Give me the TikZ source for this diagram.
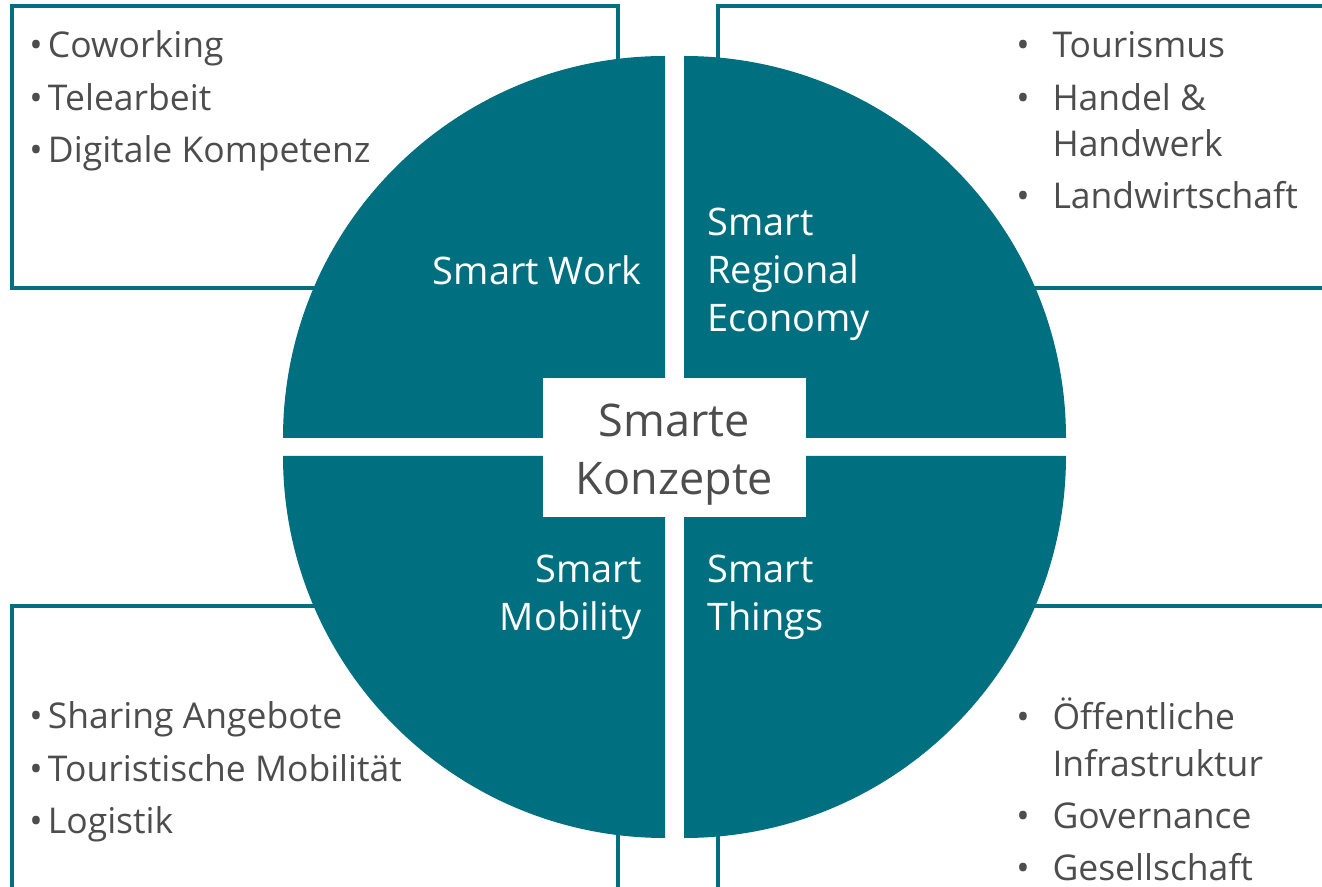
\documentclass[tikz,border=0pt]{standalone}
\usepackage{fontspec}
\setmainfont{Open Sans}
\usepackage{xcolor}
\definecolor{petrol}{HTML}{007080}
\definecolor{txtgray}{HTML}{4D4D4D}

\tikzset{
  rahmen/.style={draw=petrol, line width=2.3pt},
  viertel/.style={fill=petrol},
  liste/.style={text=txtgray, inner sep=0pt, font=\fontsize{20.2}{29.6}\selectfont},
  titel/.style={text=white, inner sep=0pt, font=\fontsize{21.6}{27.3}\selectfont}
}

\begin{document}
\begin{tikzpicture}
  \useasboundingbox (0,0) rectangle (26.44,17.72);
  \begin{scope}
    \clip (0,0) rectangle (26.44,17.72);

    % Rahmen der vier Themenfelder
    \draw[rahmen] (0.24,11.96) rectangle (12.36,17.60);
    \draw[rahmen] (14.36,11.96) rectangle (27.00,17.60);
    \draw[rahmen] (0.24,-1.00) rectangle (12.36,5.60);
    \draw[rahmen] (14.36,-1.00) rectangle (27.00,5.60);

    % Kreis aus vier Vierteln
    \fill[viertel] (13.30,8.96) -- ++(-7.64,0) arc (180:90:7.64) -- cycle;
    \fill[viertel] (13.68,8.96) -- ++(0,7.64) arc (90:0:7.64) -- cycle;
    \fill[viertel] (13.30,8.60) -- ++(-7.64,0) arc (180:270:7.64) -- cycle;
    \fill[viertel] (13.68,8.60) -- ++(7.64,0) arc (0:-90:7.64) -- cycle;
  \end{scope}

  % Mitte
  \node[fill=white, minimum width=5.26cm, minimum height=2.78cm, inner sep=0pt] (mitte) at (13.49,8.77) {};
  \node[text=txtgray, inner sep=0pt, font=\fontsize{25.6}{33}\selectfont] (mittetext) at ([yshift=-0.12cm]mitte.center)
        {\begin{tabular}{@{}c@{}}Smarte\\ Konzepte\end{tabular}};

  % Titel der Viertel
  \node[titel, anchor=base east] (work) at (12.84,12.02)
        {\begin{tabular}[t]{@{}r@{}}Smart Work\end{tabular}};
  \node[titel, anchor=base west] (regio) at (14.14,13.00)
        {\begin{tabular}[t]{@{}l@{}}Smart\\ Regional\\ Economy\end{tabular}};
  \node[titel, anchor=base east] (mobil) at (12.84,6.06)
        {\begin{tabular}[t]{@{}r@{}}Smart\\ Mobility\end{tabular}};
  \node[titel, anchor=base west] (things) at (14.14,6.06)
        {\begin{tabular}[t]{@{}l@{}}Smart\\ Things\end{tabular}};

  % Stichpunkte
  \node[liste, anchor=base west] (worklist) at (0.58,16.56)
        {\begin{tabular}[t]{@{}l@{\hspace{3pt}}l@{}}
          \textbullet & Coworking\\
          \textbullet & Telearbeit\\
          \textbullet & Digitale Kompetenz
        \end{tabular}};
  \node[liste, anchor=base west, font=\fontsize{20.2}{26.2}\selectfont] (regiolist) at (20.32,16.56)
        {\begin{tabular}[t]{@{}l@{\hspace{13pt}}l@{}}
          \textbullet & Tourismus\\[3.4pt]
          \textbullet & Handel \&\\
                      & Handwerk\\[3.4pt]
          \textbullet & Landwirtschaft
        \end{tabular}};
  \node[liste, anchor=base west] (mobillist) at (0.58,3.14)
        {\begin{tabular}[t]{@{}l@{\hspace{3pt}}l@{}}
          \textbullet & Sharing Angebote\\
          \textbullet & Touristische Mobilität\\
          \textbullet & Logistik
        \end{tabular}};
  \node[liste, anchor=base west, font=\fontsize{20.2}{26.2}\selectfont] (thingslist) at (20.32,3.12)
        {\begin{tabular}[t]{@{}l@{\hspace{13pt}}l@{}}
          \textbullet & Öffentliche\\
                      & Infrastruktur\\[3.4pt]
          \textbullet & Governance\\[3.4pt]
          \textbullet & Gesellschaft
        \end{tabular}};
\end{tikzpicture}
\end{document}
